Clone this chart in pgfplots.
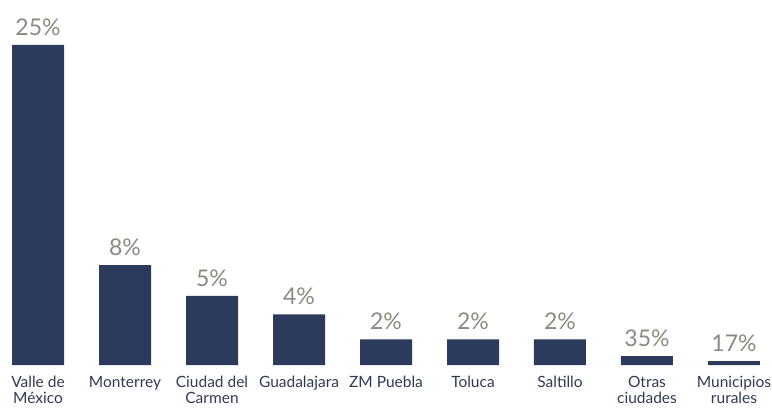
\documentclass[border=0pt]{standalone}
\usepackage{pgfplots}
\pgfplotsset{compat=1.18}
\usepackage{fontspec}
\setmainfont{Lato}
\definecolor{barblue}{HTML}{2C3A5B}
\definecolor{pctgray}{HTML}{8A8A80}
\definecolor{labtext}{HTML}{303A52}
\begin{document}
\begin{tikzpicture}
  \begin{axis}[
    scale only axis,
    width=772pt, height=365pt,
    xmin=-0.437, xmax=8.437,
    ymin=0, ymax=28.5,
    ybar, bar width=52pt,
    axis line style={draw=none},
    major tick length=0pt,
    ytick=\empty,
    xtick={0,...,8},
    xticklabels={{Valle de\\México},Monterrey,{Ciudad del\\Carmen},Guadalajara,ZM Puebla,Toluca,Saltillo,{Otras\\ciudades},{Municipios\\rurales}},
    xticklabel style={align=center, font=\fontsize{15.5}{16}\selectfont, text=labtext, anchor=north, yshift=-8pt},
    point meta=explicit symbolic,
    nodes near coords,
    every node near coord/.append style={font=\fontsize{23}{26}\selectfont, text=pctgray, yshift=6pt},
    clip=false,
    ]
    \addplot[fill=barblue, draw=none] coordinates {
      (0,25.0) [25\%]
      (1,7.8) [8\%]
      (2,5.4) [5\%]
      (3,3.95) [4\%]
      (4,2.0) [2\%]
      (5,2.0) [2\%]
      (6,2.0) [2\%]
      (7,0.7) [35\%]
      (8,0.3) [17\%]
    };
    \coordinate (bl) at (rel axis cs:0,0);
    \coordinate (tr) at (rel axis cs:1,1);
  \end{axis}
  \pgfresetboundingbox
  \path (bl) ++(0,-43pt) rectangle (tr);
\end{tikzpicture}
\end{document}
